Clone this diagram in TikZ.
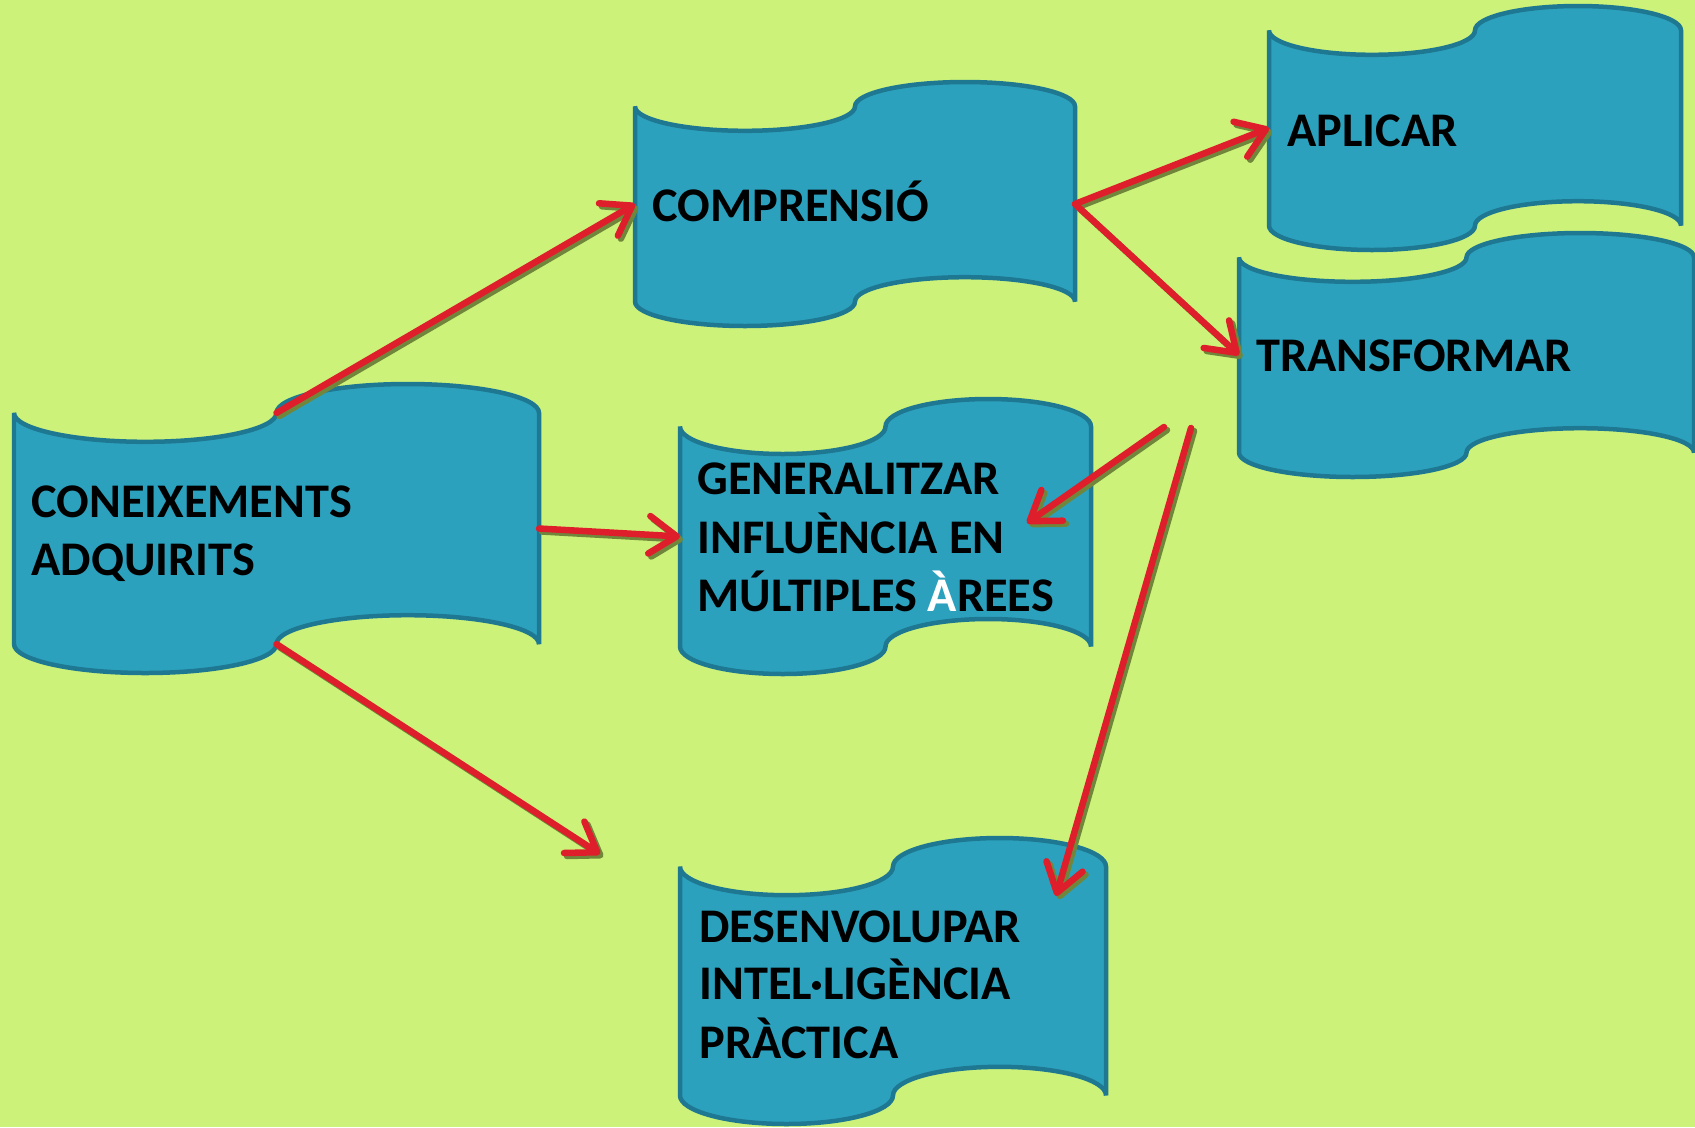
\documentclass[tikz,border=0pt]{standalone}
\usepackage{fontspec}
\setmainfont{Carlito}
\usetikzlibrary{arrows.meta}
\definecolor{bgc}{RGB}{204,242,122}
\definecolor{tapefill}{RGB}{44,161,190}
\definecolor{tapeline}{RGB}{30,120,145}
\definecolor{arrred}{RGB}{222,30,42}
\definecolor{arrshadow}{RGB}{112,134,58}
\tikzset{
  tape/.style={fill=tapefill, draw=tapeline, line width=0.09cm, miter limit=2.5},
  lbl/.style={anchor=base west, inner sep=0pt, font=\fontsize{27.5pt}{32pt}\selectfont\bfseries, text=black},
  arr/.style={draw=arrred, line width=0.13cm, line cap=round, -{Straight Barb[length=0.55cm, width=0.75cm, round]}},
  arrsh/.style={arr, draw=arrshadow, transform canvas={shift={(0.06cm,-0.06cm)}}},
}
\newcommand{\tapebox}[5]{%
  \pgfmathsetmacro\tbX{#2}%
  \pgfmathsetmacro\tbQ{#2+#4/4}%
  \pgfmathsetmacro\tbH{#2+#4/2}%
  \pgfmathsetmacro\tbT{#2+3*#4/4}%
  \pgfmathsetmacro\tbB{#2+#4}%
  \pgfmathsetmacro\tbKX{0.5523*#4/4}%
  \pgfmathsetmacro\tbKY{0.5523*#5/10}%
  \pgfmathsetmacro\tbYa{#3}%
  \pgfmathsetmacro\tbYb{#3+#5/10}%
  \pgfmathsetmacro\tbYc{#3+#5/5}%
  \pgfmathsetmacro\tbYh{#3+#5*0.8}%
  \pgfmathsetmacro\tbYi{#3+#5*0.9}%
  \pgfmathsetmacro\tbYj{#3+#5}%
  \pgfmathsetmacro\tbYm{#3+#5/2}%
  \draw[tape] (\tbX,\tbYb) .. controls (\tbX,\tbYb+\tbKY) and (\tbQ-\tbKX,\tbYc) .. (\tbQ,\tbYc)
    .. controls (\tbQ+\tbKX,\tbYc) and (\tbH,\tbYb+\tbKY) .. (\tbH,\tbYb)
    .. controls (\tbH,\tbYb-\tbKY) and (\tbT-\tbKX,\tbYa) .. (\tbT,\tbYa)
    .. controls (\tbT+\tbKX,\tbYa) and (\tbB,\tbYb-\tbKY) .. (\tbB,\tbYb)
    -- (\tbB,\tbYi)
    .. controls (\tbB,\tbYi-\tbKY) and (\tbT+\tbKX,\tbYh) .. (\tbT,\tbYh)
    .. controls (\tbT-\tbKX,\tbYh) and (\tbH,\tbYi-\tbKY) .. (\tbH,\tbYi)
    .. controls (\tbH,\tbYi+\tbKY) and (\tbQ+\tbKX,\tbYj) .. (\tbQ,\tbYj)
    .. controls (\tbQ-\tbKX,\tbYj) and (\tbX,\tbYi+\tbKY) .. (\tbX,\tbYi)
    -- cycle;
  \coordinate (#1-w) at (\tbX,\tbYm);
  \coordinate (#1-e) at (\tbB,\tbYm);
  \coordinate (#1-n) at (\tbH,\tbYb);
  \coordinate (#1-s) at (\tbH,\tbYi);
}
\newcommand{\arrowpair}[2]{%
  \draw[arrsh] (#1) -- (#2);
  \draw[arr] (#1) -- (#2);
}
\begin{document}
\begin{tikzpicture}[x=0.02cm, y=-0.02cm]
  \fill[bgc] (0,0) rectangle (1695,1127);
  \useasboundingbox (0,0) rectangle (1695,1127);
  % boxes
  \tapebox{coneixbox}{14}{384}{525}{289}
  \tapebox{comprbox}{635}{82}{440}{244}
  \tapebox{aplicarbox}{1269}{6}{412}{244}
  \tapebox{transfbox}{1239}{233}{455}{244}
  \tapebox{genbox}{680}{399}{411}{275}
  \tapebox{desbox}{680}{838}{426}{286}
  % labels
  \node[lbl] (coneixA) at (31,517) {CONEIXEMENTS};
  \node[lbl] (coneixB) at (31,575) {ADQUIRITS};
  \node[lbl] (comprA) at (652,221) {COMPRENSIÓ};
  \node[lbl] (aplicarA) at (1287,146) {APLICAR};
  \node[lbl] (transfA) at (1256,371) {TRANSFORMAR};
  \node[lbl] (genA) at (697,494) {GENERALITZAR};
  \node[lbl] (genB) at (697,553) {INFLUÈNCIA EN};
  \node[lbl] (genC) at (697,611) {MÚLTIPLES \textcolor{white}{À}REES};
  \node[lbl] (desA) at (699,942) {DESENVOLUPAR};
  \node[lbl] (desB) at (699,999) {INTEL·LIGÈNCIA};
  \node[lbl] (desC) at (699,1058) {PRÀCTICA};
  % free ends
  \coordinate (freeA) at (600,854);
  \coordinate (srcA) at (1164,427);
  \coordinate (tipA) at (1027,523);
  \coordinate (srcB) at (1191,428);
  \coordinate (tipB) at (1056,896);
  % connectors
  \arrowpair{coneixbox-n}{comprbox-w}
  \arrowpair{coneixbox-e}{genbox-w}
  \arrowpair{coneixbox-s}{freeA}
  \arrowpair{comprbox-e}{aplicarbox-w}
  \arrowpair{comprbox-e}{transfbox-w}
  \arrowpair{srcA}{tipA}
  \arrowpair{srcB}{tipB}
\end{tikzpicture}
\end{document}
